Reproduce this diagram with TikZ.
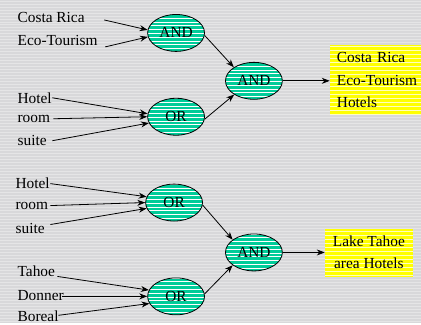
\documentclass[tikz,border=0pt]{standalone}
\usepackage{fontspec}
\setmainfont{Liberation Serif}
\usetikzlibrary{shapes.geometric,arrows.meta}
\definecolor{bgray}{RGB}{216,216,218}
\definecolor{teal}{RGB}{0,204,153}
\definecolor{hiyel}{RGB}{255,255,0}
\definecolor{paleyel}{RGB}{255,255,190}
\tikzset{
  txt/.style={font=\fontsize{15.4}{18}\selectfont, inner sep=0pt, anchor=west},
  gate/.style={ellipse, draw=black, line width=0.8pt, fill=teal, minimum width=57pt, minimum height=37pt, inner sep=0pt,
    font=\fontsize{15.4}{18}\selectfont,
    path picture={\foreach \k in {1,...,10}{\draw[white, line width=0.7pt] ([yshift=\k*3.8pt-1pt]path picture bounding box.south west) -- ([yshift=\k*3.8pt-1pt]path picture bounding box.south east);}}},
  outbox/.style={rectangle, fill=hiyel, inner sep=0pt,
    path picture={\foreach \k in {0,...,18}{\draw[paleyel, line width=0.7pt] ([yshift=\k*4pt+1pt]path picture bounding box.south west) -- ([yshift=\k*4pt+1pt]path picture bounding box.south east);}}},
  arr/.style={line width=0.8pt, -{Stealth[length=8pt,width=6pt]}}
}
\begin{document}
\begin{tikzpicture}[x=1pt,y=-1pt]
\fill[bgray] (0,0) rectangle (421,324);
\foreach \k in {0,...,108}{\draw[white, opacity=0.35, line width=0.9pt] (0,\k*3+1) -- (421,\k*3+1);}
\useasboundingbox (0,0) rectangle (421,324);

% top section labels
\node[txt] (cr1) at (17,18) {Costa Rica};
\node[txt] (eco1) at (17,41) {Eco-Tourism};
\node[txt] (ho1) at (17,98) {Hotel};
\node[txt] (ro1) at (17,119) {room};
\node[txt] (su1) at (17,141) {suite};

\node[gate] (and1) at (176,33) {AND};
\node[gate] (or1) at (176,117) {OR};
\node[gate] (and2) at (254,81) {AND};

\node[outbox, minimum width=96pt, minimum height=70pt, anchor=north west, text width=88pt, align=left, inner xsep=7pt,
  font=\fontsize{15.4}{23}\selectfont] (res1) at (330,45)
  {Costa Rica\\Eco-Tourism\\Hotels};

\coordinate (s1) at (104,20);
\coordinate (s2) at (105,47);
\coordinate (s3) at (52,98);
\coordinate (s4) at (53,119);
\coordinate (s5) at (52,141);

\draw[arr] (s1) -- (and1.174);
\draw[arr] (s2) -- (and1.188);
\draw[arr] (s3) -- (or1.174);
\draw[arr] (s4) -- (or1.180);
\draw[arr] (s5) -- (or1.193);
\draw[arr] (and1.355) -- (and2.146);
\draw[arr] (or1.355) -- (and2.215);
\draw[arr] (and2.east) -- (res1.west |- and2.east);

% bottom section labels
\node[txt] (ho2) at (15,184) {Hotel};
\node[txt] (ro2) at (15,206) {room};
\node[txt] (su2) at (15,229) {suite};
\node[txt] (ta) at (17,272) {Tahoe};
\node[txt] (do) at (17,296) {Donner};
\node[txt] (bo) at (17,317) {Boreal};

\node[gate] (or2) at (174,203) {OR};
\node[gate] (or3) at (176,297) {OR};
\node[gate] (and3) at (254,253) {AND};

\node[outbox, minimum width=88pt, minimum height=48pt, anchor=north west, align=center,
  font=\fontsize{15.4}{22}\selectfont] (res2) at (325,229)
  {Lake Tahoe\\area Hotels};

\coordinate (t1) at (50,184);
\coordinate (t2) at (50,206);
\coordinate (t3) at (50,225);
\coordinate (t4) at (57,277);
\coordinate (t5) at (62,297);
\coordinate (t6) at (58,316);

\draw[arr] (t1) -- (or2.168);
\draw[arr] (t2) -- (or2.180);
\draw[arr] (t3) -- (or2.192);
\draw[arr] (t4) -- (or3.167);
\draw[arr] (t5) -- (or3.180);
\draw[arr] (t6) -- (or3.195);
\draw[arr] (or2.355) -- (and3.149);
\draw[arr] (or3.5) -- (and3.211);
\draw[arr] (and3.east) -- (res2.west |- and3.east);
\end{tikzpicture}
\end{document}
